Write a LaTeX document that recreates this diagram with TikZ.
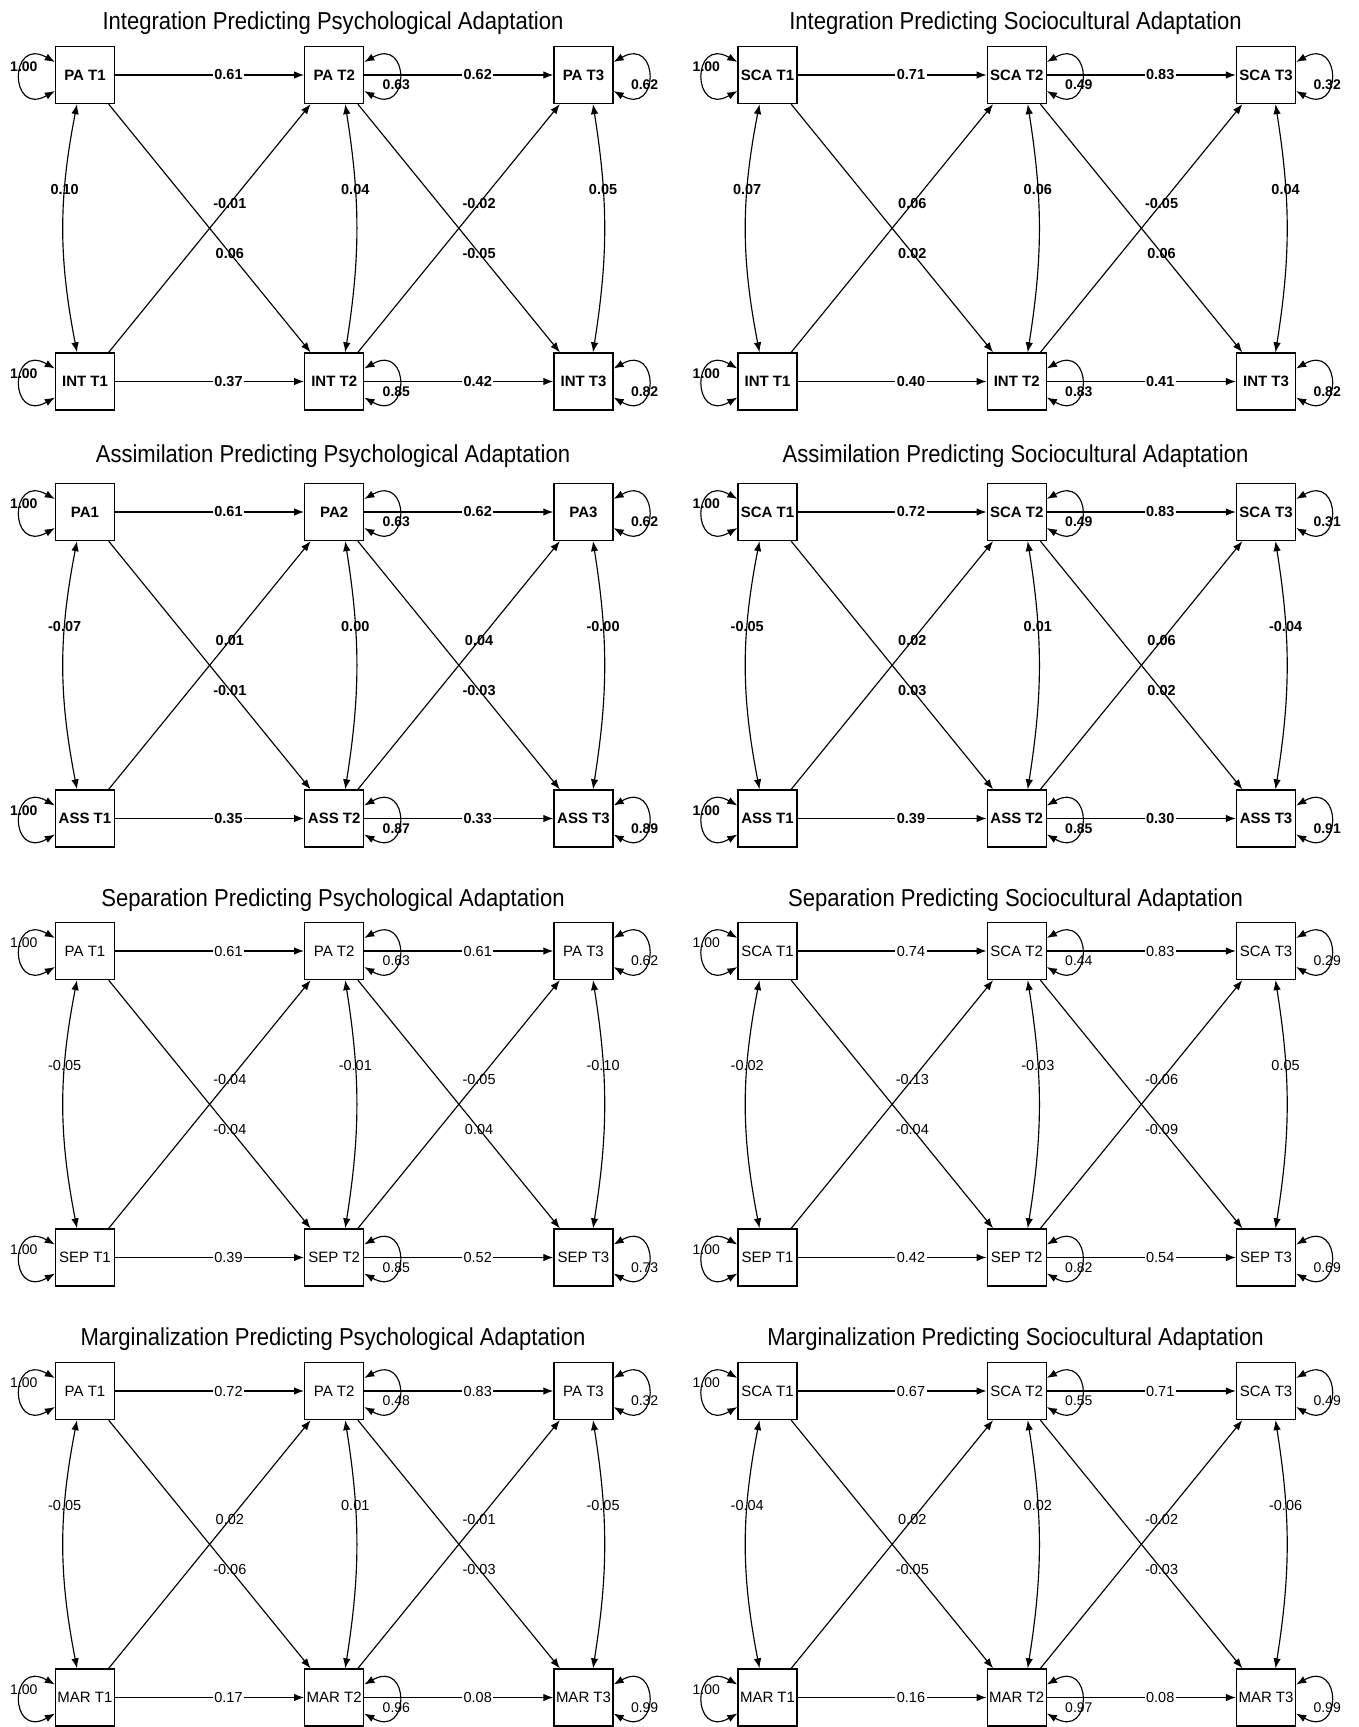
\documentclass[tikz,border=0pt]{standalone}
\usepackage{fontspec}
\setmainfont{Liberation Sans}
\newfontfamily\titlefont[FakeStretch=0.9]{Liberation Sans}
\usetikzlibrary{arrows.meta,calc}

\def\wt{}
\def\getnames#1/#2/#3/#4/#5/#6\endget{\def\NA{#1}\def\NB{#2}\def\NC{#3}\def\ND{#4}\def\NE{#5}\def\NF{#6}}
\def\gethor#1/#2/#3/#4\endget{\def\HA{#1}\def\HB{#2}\def\HC{#3}\def\HD{#4}}
\def\getloops#1/#2/#3/#4/#5/#6\endget{\def\LA{#1}\def\LB{#2}\def\LC{#3}\def\LD{#4}\def\LE{#5}\def\LF{#6}}
\def\getcov#1/#2/#3/#4/#5/#6/#7\endget{\def\CA{#1}\def\CB{#2}\def\CC{#3}\def\DA{#4}\def\DB{#5}\def\DC{#6}\def\DD{#7}}

\tikzset{
  box/.style={draw, line width=1.3pt, minimum width=59pt, minimum height=57pt, inner sep=0pt,
    font=\fontsize{15}{17}\selectfont\wt},
  conn/.style={line width=1.15pt, -{Latex[length=10pt,width=7.5pt]}},
  dconn/.style={line width=1.15pt, {Latex[length=10pt,width=7.5pt]}-{Latex[length=10pt,width=7.5pt]}},
  hlab/.style={fill=white, inner sep=1.5pt, pos=0.6, font=\fontsize{14.5}{16}\selectfont\wt},
  dlab/.style={inner sep=0pt, pos=0.6, font=\fontsize{14.5}{16}\selectfont\wt},
  clab/.style={inner sep=0pt, pos=0.333, font=\fontsize{14.5}{16}\selectfont\wt},
  llab/.style={inner sep=0pt, font=\fontsize{14}{16}\selectfont\wt},
  ttl/.style={anchor=base, inner sep=0pt, font=\titlefont\fontsize{24.5}{28}\selectfont},
}

% #1 prefix, #2 x of column 1, #3 y of top row, #4 title baseline, #5 title,
% #6 names, #7 horizontal paths, #8 variances, #9 covariances and cross paths
\newcommand\drawpanel[9]{%
  \getnames#6\endget
  \gethor#7\endget
  \getloops#8\endget
  \getcov#9\endget
  \node[ttl] (#1title) at (#2+248,#4) {#5};
  \node[box] (#1a) at (#2,#3) {\NA};
  \node[box] (#1b) at (#2+249.2,#3) {\NB};
  \node[box] (#1c) at (#2+498.5,#3) {\NC};
  \node[box] (#1d) at (#2,#3+306.5) {\ND};
  \node[box] (#1e) at (#2+249.2,#3+306.5) {\NE};
  \node[box] (#1f) at (#2+498.5,#3+306.5) {\NF};
  % horizontal paths
  \draw[conn] (#1a) -- node[hlab] (#1h1) {\HA} (#1b);
  \draw[conn] (#1b) -- node[hlab] (#1h2) {\HB} (#1c);
  \draw[conn] (#1d) -- node[hlab] (#1h3) {\HC} (#1e);
  \draw[conn] (#1e) -- node[hlab] (#1h4) {\HD} (#1f);
  % cross-lagged paths
  \draw[conn] (#1d) -- node[dlab] (#1x1) {\DA} (#1b);
  \draw[conn] (#1a) -- node[dlab] (#1x2) {\DB} (#1e);
  \draw[conn] (#1e) -- node[dlab] (#1x3) {\DC} (#1c);
  \draw[conn] (#1b) -- node[dlab] (#1x4) {\DD} (#1f);
  % covariances
  \draw[dconn] ([xshift=-8pt]#1a.south) to[bend right=11] node[clab] (#1c1) {\CA} ([xshift=-8pt]#1d.north);
  \draw[dconn] ([xshift=11pt]#1b.south) to[bend left=9] node[clab] (#1c2) {\CB} ([xshift=11pt]#1e.north);
  \draw[dconn] ([xshift=9.5pt]#1c.south) to[bend left=9] node[clab] (#1c3) {\CC} ([xshift=9.5pt]#1f.north);
  % variances
  \draw[dconn] ($(#1a.west)+(0,-13)$) .. controls +(-46,-26) and +(-46,26) .. ($(#1a.west)+(0,16)$);
  \draw[dconn] ($(#1d.west)+(0,-13)$) .. controls +(-46,-26) and +(-46,26) .. ($(#1d.west)+(0,16)$);
  \draw[dconn] ($(#1b.east)+(0,-13)$) .. controls +(46,-26) and +(46,26) .. ($(#1b.east)+(0,16)$);
  \draw[dconn] ($(#1c.east)+(0,-13)$) .. controls +(46,-26) and +(46,26) .. ($(#1c.east)+(0,16)$);
  \draw[dconn] ($(#1e.east)+(0,-13)$) .. controls +(46,-26) and +(46,26) .. ($(#1e.east)+(0,16)$);
  \draw[dconn] ($(#1f.east)+(0,-13)$) .. controls +(46,-26) and +(46,26) .. ($(#1f.east)+(0,16)$);
  \node[llab] (#1v1) at ($(#1a.west)+(-31,-8)$) {\LA};
  \node[llab] (#1v4) at ($(#1d.west)+(-31,-8)$) {\LD};
  \node[llab] (#1v2) at ($(#1b.east)+(32,10)$) {\LB};
  \node[llab] (#1v3) at ($(#1c.east)+(31,10)$) {\LC};
  \node[llab] (#1v5) at ($(#1e.east)+(32,10)$) {\LE};
  \node[llab] (#1v6) at ($(#1f.east)+(31,10)$) {\LF};
}

\begin{document}
\begin{tikzpicture}[x=1pt,y=-1pt]
\fill[white] (0,0) rectangle (1358,1727);
\useasboundingbox (0,0) rectangle (1358,1727);

\def\wt{\bfseries}
\drawpanel{A}{85}{75}{29}{Integration Predicting Psychological Adaptation}{PA T1/PA T2/PA T3/INT T1/INT T2/INT T3}{0.61/0.62/0.37/0.42}{1.00/0.63/0.62/1.00/0.85/0.82}{0.10/0.04/0.05/-0.01/0.06/-0.02/-0.05}
\drawpanel{B}{767.5}{75}{29}{Integration Predicting Sociocultural Adaptation}{SCA T1/SCA T2/SCA T3/INT T1/INT T2/INT T3}{0.71/0.83/0.40/0.41}{1.00/0.49/0.32/1.00/0.83/0.82}{0.07/0.06/0.04/0.06/0.02/-0.05/0.06}
\drawpanel{C}{85}{512}{462}{Assimilation Predicting Psychological Adaptation}{PA1/PA2/PA3/ASS T1/ASS T2/ASS T3}{0.61/0.62/0.35/0.33}{1.00/0.63/0.62/1.00/0.87/0.89}{-0.07/0.00/-0.00/0.01/-0.01/0.04/-0.03}
\drawpanel{D}{767.5}{512}{462}{Assimilation Predicting Sociocultural Adaptation}{SCA T1/SCA T2/SCA T3/ASS T1/ASS T2/ASS T3}{0.72/0.83/0.39/0.30}{1.00/0.49/0.31/1.00/0.85/0.91}{-0.05/0.01/-0.04/0.02/0.03/0.06/0.02}

\def\wt{}
\drawpanel{E}{85}{951}{906}{Separation Predicting Psychological Adaptation}{PA T1/PA T2/PA T3/SEP T1/SEP T2/SEP T3}{0.61/0.61/0.39/0.52}{1.00/0.63/0.62/1.00/0.85/0.73}{-0.05/-0.01/-0.10/-0.04/-0.04/-0.05/0.04}
\drawpanel{F}{767.5}{951}{906}{Separation Predicting Sociocultural Adaptation}{SCA T1/SCA T2/SCA T3/SEP T1/SEP T2/SEP T3}{0.74/0.83/0.42/0.54}{1.00/0.44/0.29/1.00/0.82/0.69}{-0.02/-0.03/0.05/-0.13/-0.04/-0.06/-0.09}
\drawpanel{G}{85}{1391}{1345.5}{Marginalization Predicting Psychological Adaptation}{PA T1/PA T2/PA T3/MAR T1/MAR T2/MAR T3}{0.72/0.83/0.17/0.08}{1.00/0.48/0.32/1.00/0.96/0.99}{-0.05/0.01/-0.05/0.02/-0.06/-0.01/-0.03}
\drawpanel{H}{767.5}{1391}{1345.5}{Marginalization Predicting Sociocultural Adaptation}{SCA T1/SCA T2/SCA T3/MAR T1/MAR T2/MAR T3}{0.67/0.71/0.16/0.08}{1.00/0.55/0.49/1.00/0.97/0.99}{-0.04/0.02/-0.06/0.02/-0.05/-0.02/-0.03}
\end{tikzpicture}
\end{document}
